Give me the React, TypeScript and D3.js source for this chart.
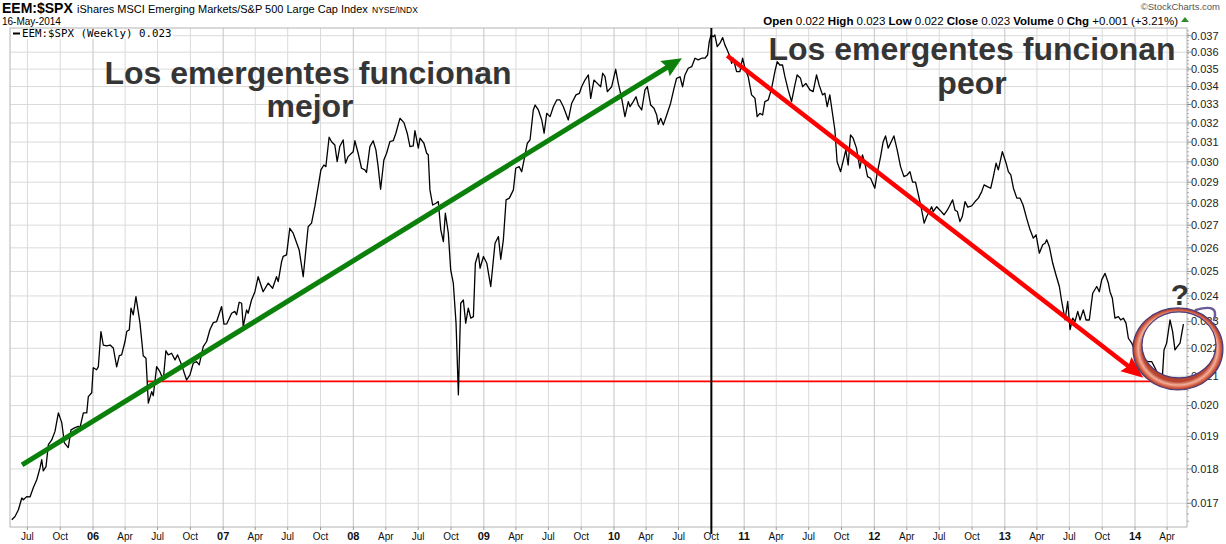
import React from "react";
import * as d3 from "d3";

// ---------- DATA ----------
const weekTimes: number[] = [
  2005.376, 2005.401, 2005.427, 2005.453, 2005.465, 2005.491, 2005.516, 2005.542, 2005.568, 2005.593,
  2005.606, 2005.618, 2005.639, 2005.657, 2005.683, 2005.708, 2005.734, 2005.760, 2005.780, 2005.810,
  2005.831, 2005.862, 2005.887, 2005.900, 2005.926, 2005.952, 2005.964, 2005.990, 2006.002, 2006.028,
  2006.041, 2006.061, 2006.079, 2006.105, 2006.131, 2006.156, 2006.182, 2006.202, 2006.220, 2006.246,
  2006.259, 2006.279, 2006.292, 2006.309, 2006.330, 2006.361, 2006.386, 2006.407, 2006.425, 2006.451,
  2006.463, 2006.489, 2006.514, 2006.540, 2006.560, 2006.578, 2006.604, 2006.630, 2006.650, 2006.681,
  2006.719, 2006.745, 2006.770, 2006.796, 2006.816,
  2006.847, 2006.873, 2006.898, 2006.924, 2006.950, 2006.988, 2007.006, 2007.027, 2007.065, 2007.090,
  2007.103, 2007.123, 2007.142, 2007.154, 2007.180, 2007.192, 2007.218, 2007.244, 2007.269, 2007.307,
  2007.346, 2007.380, 2007.410, 2007.423, 2007.449, 2007.461, 2007.487, 2007.512, 2007.538, 2007.584,
  2007.615, 2007.653, 2007.679, 2007.704, 2007.730, 2007.751, 2007.774, 2007.789, 2007.814, 2007.833,
  2007.858, 2007.876, 2007.896, 2007.922, 2007.940, 2007.960, 2007.986, 2007.999, 2008.012, 2008.037,
  2008.063, 2008.088, 2008.101, 2008.127, 2008.152, 2008.173, 2008.190, 2008.209, 2008.234, 2008.255,
  2008.280, 2008.306, 2008.326, 2008.357, 2008.388, 2008.413, 2008.434, 2008.459, 2008.472, 2008.498,
  2008.511, 2008.541, 2008.562, 2008.574, 2008.587, 2008.608, 2008.633, 2008.651, 2008.670, 2008.690,
  2008.705, 2008.728, 2008.746, 2008.766, 2008.787, 2008.805, 2008.823, 2008.843, 2008.861, 2008.881,
  2008.900, 2008.920, 2008.935, 2008.958, 2008.971, 2008.997, 2009.023, 2009.053, 2009.086, 2009.112,
  2009.130, 2009.150, 2009.171, 2009.196, 2009.227, 2009.245, 2009.271, 2009.291, 2009.309, 2009.334,
  2009.355, 2009.380, 2009.394, 2009.419, 2009.445, 2009.463, 2009.483, 2009.509, 2009.534, 2009.560,
  2009.585, 2009.611, 2009.649, 2009.675, 2009.708, 2009.734, 2009.752, 2009.777, 2009.803, 2009.821,
  2009.846, 2009.872, 2009.898, 2009.913, 2009.931, 2009.949, 2009.982, 2010.013, 2010.033, 2010.059,
  2010.084, 2010.110,
  2010.123, 2010.148, 2010.169, 2010.187, 2010.213, 2010.238, 2010.256, 2010.282, 2010.307, 2010.328,
  2010.340, 2010.359, 2010.379, 2010.405, 2010.435, 2010.461, 2010.481, 2010.507, 2010.527, 2010.545,
  2010.570, 2010.597, 2010.622, 2010.647, 2010.673, 2010.699, 2010.719, 2010.732, 2010.745, 2010.762,
  2010.775, 2010.793, 2010.814, 2010.835, 2010.852, 2010.870, 2010.891, 2010.904, 2010.916, 2010.942,
  2010.967, 2010.988, 2011.006, 2011.031, 2011.057, 2011.083, 2011.100, 2011.121, 2011.142, 2011.159,
  2011.185, 2011.211, 2011.236, 2011.254, 2011.274, 2011.295, 2011.313, 2011.338, 2011.364, 2011.390,
  2011.407, 2011.433, 2011.449, 2011.474, 2011.505, 2011.530, 2011.556, 2011.576, 2011.602, 2011.620,
  2011.638, 2011.658,
  2011.697, 2011.714, 2011.741, 2011.766, 2011.781, 2011.799, 2011.817, 2011.837, 2011.863, 2011.889,
  2011.909, 2011.927, 2011.948, 2011.971, 2012.004, 2012.022, 2012.048, 2012.068, 2012.086, 2012.106,
  2012.124, 2012.150, 2012.175, 2012.201, 2012.227, 2012.252, 2012.273, 2012.293, 2012.316, 2012.332,
  2012.355, 2012.382, 2012.401, 2012.421, 2012.439, 2012.451, 2012.478, 2012.503, 2012.534, 2012.559,
  2012.580, 2012.600, 2012.618, 2012.636, 2012.656, 2012.674, 2012.695, 2012.716, 2012.746, 2012.772,
  2012.797, 2012.823, 2012.841, 2012.866, 2012.892, 2012.912, 2012.933, 2012.950, 2012.981, 2013.010,
  2013.027, 2013.046, 2013.066, 2013.092, 2013.117, 2013.140, 2013.171,
  2013.194, 2013.219, 2013.240, 2013.265, 2013.291, 2013.309, 2013.322, 2013.342, 2013.368, 2013.393,
  2013.419, 2013.437, 2013.463, 2013.483, 2013.501, 2013.522, 2013.539, 2013.560, 2013.578, 2013.603,
  2013.624, 2013.649, 2013.675, 2013.706, 2013.726, 2013.744, 2013.770, 2013.795, 2013.808, 2013.826,
  2013.846, 2013.872, 2013.890, 2013.910, 2013.931, 2013.949, 2013.975, 2014.000, 2014.038, 2014.077,
  2014.102, 2014.128, 2014.154, 2014.179, 2014.210, 2014.223, 2014.243, 2014.269, 2014.289, 2014.307,
  2014.325, 2014.346, 2014.372,
];

const ratioValues: number[] = [
  0.01654, 0.01663, 0.01682, 0.01715, 0.01710, 0.01719, 0.01718, 0.01745, 0.01768, 0.01803,
  0.01828, 0.01794, 0.01807, 0.01874, 0.01889, 0.01916, 0.01976, 0.01944, 0.01880, 0.01865,
  0.01921, 0.01928, 0.01932, 0.01928, 0.01976, 0.01976, 0.02030, 0.02043, 0.02130, 0.02123,
  0.02134, 0.02262, 0.02212, 0.02209, 0.02212, 0.02201, 0.02133, 0.02173, 0.02176, 0.02225,
  0.02262, 0.02269, 0.02352, 0.02326, 0.02397, 0.02294, 0.02173, 0.02164, 0.02008, 0.02047,
  0.02033, 0.02134, 0.02116, 0.02087, 0.02191, 0.02176, 0.02182, 0.02158, 0.02176, 0.02140,
  0.02087, 0.02105, 0.02146, 0.02152, 0.02140,
  0.02206, 0.02225, 0.02269, 0.02296, 0.02300, 0.02358, 0.02290, 0.02291, 0.02332, 0.02339,
  0.02326, 0.02375, 0.02371, 0.02281, 0.02345, 0.02332, 0.02384, 0.02417, 0.02478, 0.02417,
  0.02452, 0.02431, 0.02478, 0.02458, 0.02541, 0.02563, 0.02570, 0.02686, 0.02664, 0.02591,
  0.02478, 0.02693, 0.02709, 0.02784, 0.02879, 0.02960, 0.02984, 0.02976, 0.03125, 0.03102,
  0.03085, 0.03001, 0.03077, 0.03111, 0.02993, 0.03026, 0.03043, 0.03051, 0.03107, 0.03043,
  0.02968, 0.02960, 0.02947, 0.03077, 0.03107, 0.03060, 0.02976, 0.02866, 0.03009, 0.03043,
  0.03102, 0.03107, 0.03146, 0.03225, 0.03202, 0.03146, 0.03077, 0.03080, 0.03160, 0.03069,
  0.03120, 0.03094, 0.03043, 0.03035, 0.02863, 0.02792, 0.02800, 0.02808, 0.02679, 0.02627,
  0.02754, 0.02664, 0.02506, 0.02452, 0.02294, 0.02036, 0.02371, 0.02384, 0.02294, 0.02352,
  0.02313, 0.02319, 0.02534, 0.02577, 0.02513, 0.02563, 0.02534, 0.02438, 0.02620, 0.02649,
  0.02551, 0.02635, 0.02816, 0.02824, 0.02863, 0.02968, 0.02976, 0.02951, 0.03009, 0.03094,
  0.03111, 0.03270, 0.03297, 0.03270, 0.03216, 0.03146, 0.03252, 0.03234, 0.03288, 0.03325,
  0.03325, 0.03288, 0.03216, 0.03307, 0.03353, 0.03362, 0.03400, 0.03437, 0.03466, 0.03334,
  0.03437, 0.03418, 0.03399, 0.03476, 0.03456, 0.03371, 0.03399, 0.03499, 0.03418, 0.03334,
  0.03234, 0.03316,
  0.03288, 0.03316, 0.03343, 0.03297, 0.03270, 0.03381, 0.03400, 0.03297, 0.03279, 0.03243,
  0.03193, 0.03225, 0.03190, 0.03243, 0.03307, 0.03390, 0.03447, 0.03456, 0.03399, 0.03466,
  0.03505, 0.03514, 0.03564, 0.03554, 0.03564, 0.03564, 0.03583, 0.03664, 0.03704, 0.03694,
  0.03704, 0.03633, 0.03654, 0.03688, 0.03644, 0.03613, 0.03573, 0.03534, 0.03564, 0.03485,
  0.03485, 0.03564, 0.03505, 0.03456, 0.03353, 0.03334, 0.03234, 0.03252, 0.03243, 0.03316,
  0.03325, 0.03390, 0.03485, 0.03544, 0.03524, 0.03524, 0.03456, 0.03381, 0.03316, 0.03409,
  0.03466, 0.03447, 0.03399, 0.03418, 0.03381, 0.03371, 0.03466, 0.03409, 0.03353, 0.03362,
  0.03288, 0.03353,
  0.03163, 0.03000, 0.02951, 0.03018, 0.03060, 0.02984, 0.03137, 0.03120, 0.03069, 0.02968,
  0.03035, 0.02993, 0.02927, 0.02919, 0.02871, 0.02944, 0.03026, 0.03102, 0.03132, 0.03069,
  0.03094, 0.03132, 0.03060, 0.02976, 0.02927, 0.02935, 0.02951, 0.02900, 0.02900, 0.02855,
  0.02792, 0.02709, 0.02739, 0.02762, 0.02784, 0.02762, 0.02784, 0.02768, 0.02747, 0.02768,
  0.02792, 0.02816, 0.02768, 0.02762, 0.02716, 0.02739, 0.02808, 0.02782, 0.02788, 0.02808,
  0.02824, 0.02855, 0.02887, 0.02879, 0.02871, 0.02927, 0.02993, 0.02960, 0.03051, 0.02993,
  0.02951, 0.02935, 0.02871, 0.02824, 0.02824, 0.02792, 0.02724,
  0.02679, 0.02642, 0.02657, 0.02577, 0.02613, 0.02620, 0.02635, 0.02605, 0.02534, 0.02485,
  0.02438, 0.02378, 0.02306, 0.02378, 0.02269, 0.02313, 0.02300, 0.02339, 0.02306, 0.02345,
  0.02306, 0.02306, 0.02411, 0.02438, 0.02417, 0.02465, 0.02492, 0.02452, 0.02417, 0.02391,
  0.02313, 0.02319, 0.02306, 0.02313, 0.02294, 0.02237, 0.02219, 0.02188, 0.02165, 0.02155,
  0.02152, 0.02152, 0.02129, 0.02105, 0.02096, 0.02194, 0.02219, 0.02306, 0.02262, 0.02194,
  0.02206, 0.02219, 0.02290,
];

const yTickValues: number[] = d3.range(17, 38).map((d) => d / 1000);
const yMinorTicks: number[] = d3.range(165, 375, 2).map((d) => d / 10000);

// annotations (in data space: decimal year, ratio value)
const greenTrend = { t0: 2005.455, v0: 0.01812, t1: 2010.522, v1: 0.03564 };
const redTrend = { t0: 2010.87, v0: 0.03579, t1: 2014.064, v1: 0.02095 };
const supportLine = { t0: 2006.415, t1: 2014.42, v: 0.02082 };
const markerYear = 2010.748; // Oct 2010
const circleAnchor = { t: 2014.33, v: 0.02205 };
const questionAnchor = { t: 2014.345, v: 0.02365 };

const headerStats: [string, string][] = [
  ["Open", "0.022"],
  ["High", "0.023"],
  ["Low", "0.022"],
  ["Close", "0.023"],
  ["Volume", "0"],
  ["Chg", "+0.001 (+3.21%)"],
];

// ---------- HELPERS ----------
function yearToDate(t: number): Date {
  const y = Math.floor(t);
  const s = Date.UTC(y, 0, 1);
  const e = Date.UTC(y + 1, 0, 1);
  return new Date(s + (t - y) * (e - s));
}

const FONT = "'Liberation Sans', Arial, Helvetica, sans-serif";

function Arrow({ x0, y0, x1, y1, color, width, headLen, headHalf }: any) {
  const ang = Math.atan2(y1 - y0, x1 - x0);
  const ux = Math.cos(ang), uy = Math.sin(ang);
  const bx = x1 - ux * headLen, by = y1 - uy * headLen;
  const px = -uy, py = ux;
  const pts = [
    [x1, y1],
    [bx + px * headHalf, by + py * headHalf],
    [bx + ux * 3, by + uy * 3],
    [bx - px * headHalf, by - py * headHalf],
  ];
  return (
    <g>
      <line x1={x0} y1={y0} x2={bx + ux * 4} y2={by + uy * 4} stroke={color} strokeWidth={width} strokeLinecap="butt" />
      <polygon points={pts.map((p) => p.join(",")).join(" ")} fill={color} />
    </g>
  );
}

export default function App() {
  const W = 1226, H = 544;
  const left = 10, right = 1187, top = 28, bottom = 527;

  const x = d3.scaleUtc().domain([yearToDate(2006), yearToDate(2014)]).range([93, 1135]);
  const y = d3.scaleLog().domain([0.017, 0.037]).range([503.3, 35.7]);
  const dates = weekTimes.map(yearToDate);

  const linePath = d3
    .line<number>()
    .x((_, i) => x(dates[i]))
    .y((d) => y(d))(ratioValues) as string;

  const xTicks = d3.utcMonth.every(3)!.range(new Date(Date.UTC(2005, 6, 1)), new Date(Date.UTC(2014, 4, 2)));
  const monthFmt = d3.utcFormat("%b");
  const yearFmt = d3.utcFormat("%y");
  const yFmt = d3.format(".3f");

  const gx0 = x(yearToDate(greenTrend.t0)), gy0 = y(greenTrend.v0);
  const gx1 = x(yearToDate(greenTrend.t1)), gy1 = y(greenTrend.v1);
  const rx0 = x(yearToDate(redTrend.t0)), ry0 = y(redTrend.v0);
  const rx1 = x(yearToDate(redTrend.t1)), ry1 = y(redTrend.v1);
  const sx0 = x(yearToDate(supportLine.t0)), sx1 = x(yearToDate(supportLine.t1)), sy = y(supportLine.v);
  const mx = x(yearToDate(markerYear));
  const cx = x(yearToDate(circleAnchor.t)), cy = y(circleAnchor.v);
  const qx = x(yearToDate(questionAnchor.t)), qy = y(questionAnchor.v);

  const ellipsePath = (ecx: number, ecy: number, erx: number, ery: number) =>
    `M${ecx - erx},${ecy} a${erx},${ery} 0 1,0 ${2 * erx},0 a${erx},${ery} 0 1,0 ${-2 * erx},0 Z`;
  const ringD = ellipsePath(cx, cy + 2, 45, 41) + " " + ellipsePath(cx + 1, cy - 2, 37, 33);

  return (
    <svg
      width={W}
      height={H}
      style={{ position: "absolute", left: 0, top: 0, background: "#fff" }}
      fontFamily={FONT}
    >
      <defs>
        <radialGradient id="ringGrad" cx="50%" cy="50%" r="50%">
          <stop offset="0.80" stopColor="#b8432f" />
          <stop offset="0.88" stopColor="#f2ae98" />
          <stop offset="0.95" stopColor="#d25a40" />
          <stop offset="1" stopColor="#9c3828" />
        </radialGradient>
      </defs>
      <rect x={0} y={0} width={W} height={H} fill="#fff" />

      {/* header */}
      <text x={2} y={13} fontSize={14} fontWeight="bold" fill="#000">EEM:$SPX</text>
      <text x={77} y={13} fontSize={11} fill="#000">iShares MSCI Emerging Markets/S&amp;P 500 Large Cap Index</text>
      <text x={372} y={13} fontSize={8.5} fill="#000">NYSE/INDX</text>
      <text x={2} y={25} fontSize={10} fill="#000">16-May-2014</text>
      <text x={1220} y={10} fontSize={9.5} fill="#555" textAnchor="end">©StockCharts.com</text>
      <text x={1178} y={25} fontSize={11.5} fill="#000" textAnchor="end">
        {headerStats.map(([k, v], i) => (
          <tspan key={k}>
            <tspan fontWeight="bold">{(i > 0 ? "  " : "") + k}</tspan>
            <tspan>{" " + v}</tspan>
          </tspan>
        ))}
      </text>
      <polygon points="1181,22 1189,22 1185,17" fill="#2e8b2e" />

      {/* grid */}
      {yTickValues.map((v) => (
        <line key={"hg" + v} x1={left} x2={right} y1={y(v)} y2={y(v)} stroke="#dadada" strokeWidth={1} />
      ))}
      {xTicks.map((d) => (
        <line
          key={"vg" + d.getTime()}
          x1={x(d)}
          x2={x(d)}
          y1={top}
          y2={bottom}
          stroke={d.getUTCMonth() === 0 ? "#c4c4c4" : "#dadada"}
          strokeWidth={1}
        />
      ))}

      {/* frame */}
      <rect x={left} y={top} width={right - left} height={bottom - top} fill="none" stroke="#b4b4b4" strokeWidth={1} />

      {/* y axis ticks/labels */}
      {yMinorTicks.map((v) => (
        <line key={"ym" + v} x1={right} x2={right + 2} y1={y(v)} y2={y(v)} stroke="#aaa" strokeWidth={1} />
      ))}
      {yTickValues.map((v) => (
        <g key={"yt" + v}>
          <line x1={right} x2={right + 4} y1={y(v)} y2={y(v)} stroke="#888" strokeWidth={1} />
          <text x={right + 4} y={y(v)} dy="0.35em" fontSize={11} fill="#222">
            {yFmt(v)}
          </text>
        </g>
      ))}

      {/* x axis ticks/labels */}
      {xTicks.map((d) => {
        const isYear = d.getUTCMonth() === 0;
        return (
          <g key={"xt" + d.getTime()}>
            <line x1={x(d)} x2={x(d)} y1={bottom} y2={bottom + 3} stroke="#999" strokeWidth={1} />
            <text
              x={x(d)}
              y={540}
              textAnchor="middle"
              fontSize={isYear ? 11 : 10}
              fontWeight={isYear ? "bold" : "normal"}
              fill="#111"
            >
              {isYear ? yearFmt(d) : monthFmt(d)}
            </text>
          </g>
        );
      })}

      {/* legend */}
      <rect x={11} y={29} width={162} height={10} fill="#fff" />
      <line x1={13} x2={20} y1={33.5} y2={33.5} stroke="#000" strokeWidth={2} />
      <text x={22} y={37} fontSize={10.8} fontFamily="'DejaVu Sans Mono', monospace" fill="#000">
        EEM:$SPX (Weekly) 0.023
      </text>

      {/* support line */}
      <line x1={sx0} x2={sx1} y1={sy} y2={sy} stroke="#ff0000" strokeWidth={1.8} />

      {/* data line */}
      <path d={linePath} fill="none" stroke="#000" strokeWidth={1.3} strokeLinejoin="round" />

      {/* vertical marker */}
      <line x1={mx} x2={mx} y1={top} y2={534} stroke="#000" strokeWidth={2} />

      {/* arrows */}
      <Arrow x0={gx0} y0={gy0} x1={gx1} y1={gy1} color="#0b800b" width={5} headLen={20} headHalf={9} />
      <Arrow x0={rx0} y0={ry0} x1={rx1} y1={ry1} color="#ff0000" width={4.5} headLen={22} headHalf={9} />

      {/* big annotation text */}
      <g fontSize={32} fontWeight="bold" fill="#353535">
        <text x={308} y={84} textAnchor="middle">Los emergentes funcionan</text>
        <text x={310} y={117} textAnchor="middle">mejor</text>
        <text x={972} y={60} textAnchor="middle">Los emergentes funcionan</text>
        <text x={972} y={94} textAnchor="middle">peor</text>
      </g>

      {/* circle */}
      <path d={ringD} fillRule="evenodd" fill="url(#ringGrad)" stroke="#4b3d7a" strokeWidth={1.2} />
      <path
        d={`M${cx + 18},${cy - 37} Q${cx + 42},${cy - 44} ${cx + 36},${cy - 27}`}
        fill="none"
        stroke="#6a5c96"
        strokeWidth={2.5}
        strokeLinecap="round"
      />
      <text x={qx} y={qy} textAnchor="middle" fontSize={30} fontWeight="bold" fill="#353535">?</text>
    </svg>
  );
}
